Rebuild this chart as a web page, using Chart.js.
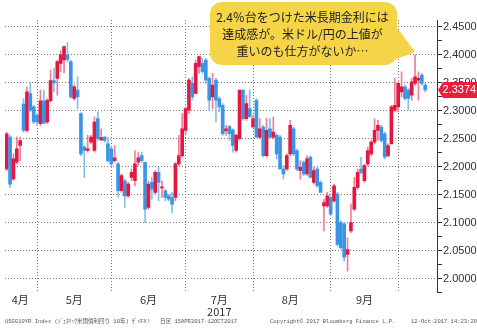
<!DOCTYPE html>
<html>
<head>
<meta charset="utf-8">
<script src="https://cdn.jsdelivr.net/npm/chart.js@4.4.1/dist/chart.umd.min.js"></script>
<style>
  html, body { margin: 0; padding: 0; background: #fff; }
  #wrap { width: 477px; height: 330px; }
</style>
</head>
<body>
<div id="wrap"><canvas id="chart" width="477" height="330"></canvas></div>
<script>
// USGG10YR daily candles (mid-April .. 12-Oct-2017)
const opens = [
  2.196, 2.253, 2.178, 2.208, 2.238, 2.312, 2.265, 2.331, 2.307, 2.292,
  2.277, 2.318, 2.280, 2.318, 2.354, 2.358, 2.385, 2.391, 2.400, 2.388,
  2.322, 2.337, 2.295, 2.235, 2.229, 2.244, 2.229, 2.286, 2.248, 2.253,
  2.241, 2.232, 2.211, 2.205, 2.157, 2.175, 2.148, 2.181, 2.175, 2.208,
  2.220, 2.208, 2.127, 2.172, 2.154, 2.190, 2.162, 2.157, 2.148, 2.145,
  2.145, 2.205, 2.220, 2.265, 2.301, 2.349, 2.331, 2.379, 2.385, 2.391,
  2.358, 2.325, 2.355, 2.322, 2.310, 2.264, 2.272, 2.266, 2.229, 2.250,
  2.337, 2.286, 2.304, 2.271, 2.319, 2.253, 2.271, 2.220, 2.268, 2.253,
  2.256, 2.253, 2.196, 2.196, 2.223, 2.268, 2.229, 2.193, 2.208, 2.187,
  2.217, 2.172, 2.196, 2.172, 2.130, 2.130, 2.145, 2.139, 2.151, 2.100,
  2.098, 2.043, 2.085, 2.124, 2.163, 2.196, 2.175, 2.205, 2.223, 2.244,
  2.265, 2.271, 2.259, 2.220, 2.241, 2.301, 2.307, 2.334, 2.343, 2.337,
  2.328, 2.349, 2.355, 2.364, 2.346
];
const highs = [
  2.262, 2.256, 2.223, 2.253, 2.253, 2.322, 2.343, 2.350, 2.310, 2.295,
  2.337, 2.337, 2.322, 2.373, 2.376, 2.391, 2.408, 2.416, 2.422, 2.391,
  2.346, 2.361, 2.297, 2.238, 2.256, 2.256, 2.289, 2.298, 2.268, 2.254,
  2.253, 2.235, 2.238, 2.208, 2.187, 2.178, 2.172, 2.196, 2.229, 2.226,
  2.226, 2.208, 2.175, 2.181, 2.193, 2.199, 2.175, 2.160, 2.151, 2.154,
  2.208, 2.256, 2.295, 2.307, 2.358, 2.361, 2.391, 2.398, 2.394, 2.394,
  2.361, 2.367, 2.358, 2.325, 2.313, 2.274, 2.274, 2.268, 2.259, 2.337,
  2.337, 2.328, 2.337, 2.292, 2.322, 2.286, 2.274, 2.286, 2.286, 2.289,
  2.259, 2.256, 2.202, 2.223, 2.283, 2.271, 2.232, 2.211, 2.211, 2.220,
  2.220, 2.199, 2.199, 2.175, 2.142, 2.154, 2.148, 2.169, 2.154, 2.103,
  2.100, 2.073, 2.133, 2.181, 2.196, 2.217, 2.205, 2.235, 2.247, 2.286,
  2.283, 2.274, 2.262, 2.241, 2.310, 2.358, 2.352, 2.370, 2.346, 2.340,
  2.358, 2.400, 2.370, 2.367, 2.349
];
const lows = [
  2.193, 2.163, 2.175, 2.205, 2.211, 2.262, 2.262, 2.298, 2.277, 2.274,
  2.274, 2.277, 2.277, 2.316, 2.334, 2.328, 2.370, 2.368, 2.387, 2.322,
  2.319, 2.304, 2.220, 2.181, 2.226, 2.241, 2.226, 2.247, 2.247, 2.244,
  2.208, 2.199, 2.208, 2.145, 2.154, 2.127, 2.145, 2.175, 2.166, 2.202,
  2.208, 2.100, 2.124, 2.142, 2.151, 2.139, 2.145, 2.139, 2.139, 2.118,
  2.139, 2.202, 2.217, 2.259, 2.295, 2.319, 2.331, 2.367, 2.367, 2.349,
  2.301, 2.304, 2.280, 2.298, 2.256, 2.256, 2.247, 2.226, 2.226, 2.247,
  2.283, 2.283, 2.289, 2.270, 2.253, 2.250, 2.217, 2.217, 2.250, 2.250,
  2.214, 2.196, 2.178, 2.193, 2.220, 2.220, 2.193, 2.178, 2.184, 2.184,
  2.181, 2.169, 2.163, 2.154, 2.085, 2.127, 2.112, 2.136, 2.058, 2.052,
  2.031, 2.013, 2.082, 2.121, 2.160, 2.187, 2.172, 2.202, 2.220, 2.241,
  2.247, 2.244, 2.214, 2.217, 2.241, 2.298, 2.298, 2.325, 2.319, 2.301,
  2.319, 2.346, 2.319, 2.346, 2.334
];
const closes = [
  2.259, 2.169, 2.214, 2.232, 2.247, 2.265, 2.334, 2.301, 2.280, 2.280,
  2.318, 2.278, 2.319, 2.354, 2.350, 2.388, 2.400, 2.415, 2.392, 2.325,
  2.343, 2.325, 2.223, 2.229, 2.232, 2.253, 2.280, 2.250, 2.252, 2.247,
  2.211, 2.205, 2.216, 2.157, 2.184, 2.148, 2.169, 2.190, 2.205, 2.216,
  2.211, 2.124, 2.169, 2.160, 2.190, 2.172, 2.164, 2.145, 2.142, 2.133,
  2.205, 2.220, 2.268, 2.304, 2.355, 2.325, 2.385, 2.397, 2.370, 2.355,
  2.319, 2.346, 2.319, 2.307, 2.259, 2.268, 2.259, 2.238, 2.256, 2.337,
  2.286, 2.313, 2.289, 2.286, 2.253, 2.268, 2.220, 2.265, 2.253, 2.262,
  2.223, 2.196, 2.187, 2.220, 2.274, 2.223, 2.196, 2.199, 2.187, 2.214,
  2.181, 2.193, 2.166, 2.154, 2.136, 2.148, 2.115, 2.166, 2.061, 2.055,
  2.038, 2.052, 2.100, 2.163, 2.190, 2.190, 2.202, 2.229, 2.244, 2.265,
  2.274, 2.247, 2.217, 2.238, 2.307, 2.310, 2.349, 2.343, 2.322, 2.322,
  2.352, 2.361, 2.358, 2.349, 2.3374
];

// x axis: month boundaries (first trading day) and label positions
const monthStarts = [9, 31, 53, 73, 96, 116];
const monthLabelAt = [4, 20, 42, 63, 84, 106];
const monthLabels = [['4月'], ['5月'], ['6月'], ['7月', '2017'], ['8月'], ['9月']];
const slotCount = 128;

// y axis
const yMin = 1.975, yMax = 2.4625;
const yLabelTicks = [2.00, 2.05, 2.10, 2.15, 2.20, 2.25, 2.30, 2.35, 2.40, 2.45];
const yMinorStep = 0.025;

// callout
const calloutIndex = 121;
const calloutLines = ['2.4％台をつけた米長期金利には', '達成感が。米ドル/円の上値が', '重いのも仕方がないか…'];

const footerLeft = 'USGG10YR Index (ｼﾞｪﾈﾘｯｸ米国債利回り 10年) ｻﾞｲFX!   日足 15APR2017-12OCT2017';
const footerMid = 'Copyright© 2017 Bloomberg Finance L.P.';
const footerRight = '12-Oct-2017 14:23:20';

const RED = '#e3173f';
const BLUE = '#3b95e6';
const RED_WICK = '#ee7f95';
const BLUE_WICK = '#85bdef';
const GRID = '#7a7a7a';

const labels = Array.from({ length: slotCount }, (_, i) => String(i));
const up = opens.map((o, i) => closes[i] >= o);
const bodyData = opens.map((o, i) => [o, closes[i]]);
const wickData = lows.map((l, i) => [l, highs[i]]);

const round3 = v => Math.round(v * 1000) / 1000;
const yAllTicks = [];
for (let v = yMin; v <= yMax + 1e-9; v += yMinorStep) yAllTicks.push(round3(v));
const isLabelTick = v => yLabelTicks.some(t => Math.abs(t - v) < 1e-6);

const bgPlugin = {
  id: 'bg',
  beforeDraw(chart) {
    const { ctx, width, height } = chart;
    ctx.save();
    ctx.fillStyle = '#fff';
    ctx.fillRect(0, 0, width, height);
    ctx.restore();
  }
};

const calloutPlugin = {
  id: 'callout',
  afterDraw(chart) {
    const { ctx, scales } = chart;
    const tipX = scales.x.getPixelForValue(calloutIndex);
    const tipY = scales.y.getPixelForValue(highs[calloutIndex]) - 3;
    const bx = 210, by = 2, bw = 187, bh = 63, r = 12;
    ctx.save();
    ctx.fillStyle = '#f6d447';
    ctx.beginPath();
    ctx.roundRect(bx, by, bw, bh, r);
    ctx.fill();
    ctx.beginPath();
    ctx.moveTo(bx + bw - 1, 26);
    ctx.lineTo(tipX, tipY);
    ctx.lineTo(bx + bw - 14, by + bh - 1);
    ctx.closePath();
    ctx.fill();
    ctx.fillStyle = '#222';
    ctx.font = '12px "Noto Sans CJK JP", sans-serif';
    ctx.textAlign = 'center';
    ctx.textBaseline = 'middle';
    calloutLines.forEach((t, i) => ctx.fillText(t, bx + bw / 2 - 1, 17 + i * 17));
    ctx.restore();
  }
};

const lastTagPlugin = {
  id: 'lastTag',
  afterDraw(chart) {
    const { ctx, scales, chartArea } = chart;
    const last = closes[closes.length - 1];
    const y = scales.y.getPixelForValue(last);
    const x0 = chartArea.right + 1;
    ctx.save();
    ctx.fillStyle = '#e8203d';
    ctx.beginPath();
    ctx.moveTo(x0, y);
    ctx.lineTo(x0 + 5, y - 8);
    ctx.lineTo(477, y - 8);
    ctx.lineTo(477, y + 8);
    ctx.lineTo(x0 + 5, y + 8);
    ctx.closePath();
    ctx.fill();
    ctx.fillStyle = '#fff';
    ctx.font = '11px "Liberation Sans", Arial, sans-serif';
    ctx.textAlign = 'left';
    ctx.textBaseline = 'middle';
    ctx.fillText(last.toFixed(4), x0 + 4.5, y + 0.5);
    ctx.restore();
  }
};

const footerPlugin = {
  id: 'footer',
  afterDraw(chart) {
    const { ctx } = chart;
    ctx.save();
    ctx.fillStyle = '#555';
    ctx.font = '5.5px "Liberation Mono", "Noto Sans CJK JP", monospace';
    ctx.textBaseline = 'middle';
    ctx.fillText(footerLeft, 5, 322);
    ctx.fillText(footerMid, 270, 322);
    ctx.textAlign = 'right';
    ctx.fillText(footerRight, 477, 322);
    ctx.restore();
  }
};

new Chart(document.getElementById('chart'), {
  type: 'bar',
  data: {
    labels,
    datasets: [
      {
        label: 'body',
        data: bodyData,
        backgroundColor: up.map(u => (u ? RED : BLUE)),
        barThickness: 3,
        minBarLength: 1,
        grouped: false,
        order: 1
      },
      {
        label: 'wick',
        data: wickData,
        backgroundColor: up.map(u => (u ? RED_WICK : BLUE_WICK)),
        barThickness: 1,
        grouped: false,
        order: 2
      }
    ]
  },
  options: {
    responsive: false,
    animation: false,
    devicePixelRatio: 1,
    layout: { padding: { left: 5, top: 20, right: 0, bottom: 11.5 } },
    plugins: {
      legend: { display: false },
      tooltip: { enabled: false }
    },
    scales: {
      x: {
        offset: true,
        grid: {
          offset: false,
          drawTicks: false,
          color: ctx => (monthStarts.includes(ctx.index) ? GRID : 'rgba(0,0,0,0)')
        },
        border: { display: false, dash: [1, 2] },
        afterFit: s => { s.height = 26; },
        ticks: {
          autoSkip: false,
          maxRotation: 0,
          padding: 1.7,
          color: '#333',
          font: { family: '"Noto Sans CJK JP", sans-serif', size: 11, lineHeight: 1.05 },
          callback: (v, i) => {
            const k = monthLabelAt.indexOf(i);
            return k >= 0 ? monthLabels[k] : '';
          }
        }
      },
      y: {
        position: 'right',
        min: yMin,
        max: yMax,
        afterBuildTicks: s => { s.ticks = yAllTicks.map(v => ({ value: v })); },
        afterFit: s => { s.width = 40; },
        grid: {
          drawTicks: true,
          tickLength: 5,
          tickColor: '#333',
          color: ctx => (ctx.tick && isLabelTick(ctx.tick.value) ? GRID : 'rgba(0,0,0,0)')
        },
        border: { display: true, color: '#333', dash: [1, 2] },
        ticks: {
          autoSkip: false,
          padding: 1,
          color: '#333',
          font: { family: '"Liberation Sans", Arial, sans-serif', size: 11 },
          callback: v => (isLabelTick(v) ? v.toFixed(4) : '')
        }
      }
    }
  },
  plugins: [bgPlugin, calloutPlugin, lastTagPlugin, footerPlugin]
});
</script>
</body>
</html>
